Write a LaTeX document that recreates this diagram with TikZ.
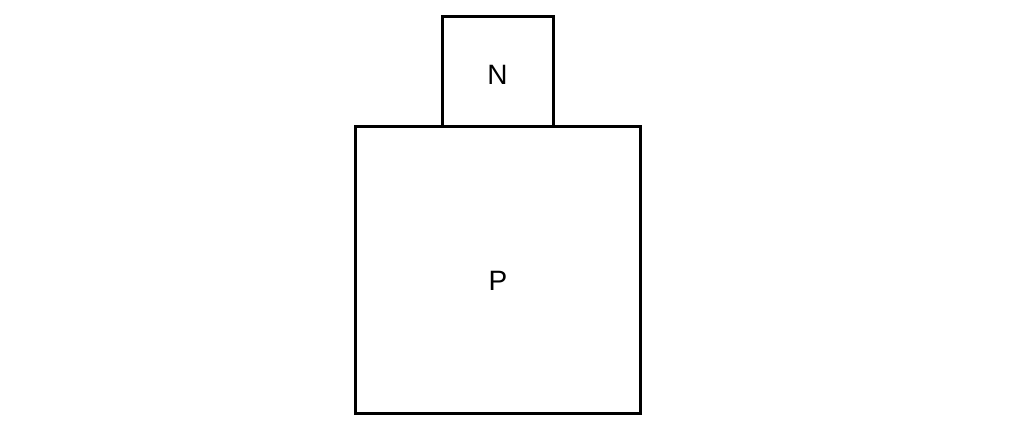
\documentclass[tikz,border=0pt]{standalone}
\usepackage{fontspec}
\setmainfont{Liberation Sans}
\begin{document}
\begin{tikzpicture}[x=1pt,y=-1pt,
  boxstyle/.style={draw=black,line width=3pt},
  lbl/.style={font=\fontsize{28}{32}\selectfont,inner sep=0pt}]
\useasboundingbox (0,0) rectangle (1024,435);
\draw[boxstyle] (355,127) rectangle (640,413);
\draw[boxstyle] (442,127) -- (442,17) -- (553,17) -- (553,127);
\node[lbl] (n) at (497.5,75) {N};
\node[lbl] (p) at (498,281) {P};
\end{tikzpicture}
\end{document}
